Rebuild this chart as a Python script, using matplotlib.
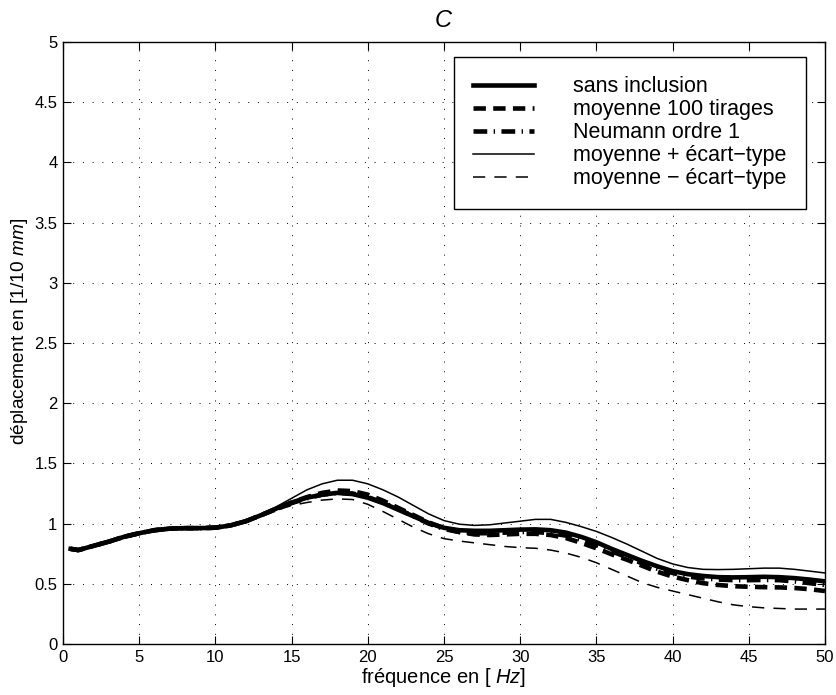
import matplotlib
matplotlib.use("Agg")
import matplotlib.pyplot as plt

plt.rcParams['font.family'] = ['Liberation Sans', 'DejaVu Sans']
plt.rcParams['mathtext.fontset'] = 'custom'
plt.rcParams['mathtext.rm'] = 'Liberation Sans'
plt.rcParams['mathtext.it'] = 'Liberation Sans:italic'

freq = [0.5, 1, 2, 3, 4, 5, 6, 7, 8, 9, 10, 11, 12, 13, 14, 15, 16, 17, 18, 19, 20,
        21, 22, 23, 24, 25, 26, 27, 28, 29, 30, 31, 32, 33, 34, 35, 36, 37, 38, 39, 40,
        41, 42, 43, 44, 45, 46, 47, 48, 49, 50]
common = [0.79, 0.78, 0.815, 0.85, 0.89, 0.92, 0.945, 0.958, 0.962, 0.962, 0.966, 0.985, 1.02, 1.07]

sans_inclusion = common + [1.125, 1.175, 1.215, 1.24, 1.255, 1.245, 1.215, 1.17, 1.115, 1.06, 1.005,
                           0.965, 0.945, 0.94, 0.94, 0.945, 0.95, 0.952, 0.945, 0.925, 0.89, 0.845,
                           0.79, 0.74, 0.69, 0.645, 0.605, 0.58, 0.565, 0.555, 0.553, 0.555, 0.558,
                           0.555, 0.547, 0.535, 0.52]
moyenne = common + [1.125, 1.175, 1.22, 1.255, 1.275, 1.27, 1.24, 1.19, 1.13, 1.07, 1.01,
                    0.96, 0.93, 0.91, 0.905, 0.91, 0.915, 0.915, 0.905, 0.88, 0.84, 0.795,
                    0.745, 0.70, 0.65, 0.60, 0.56, 0.53, 0.505, 0.49, 0.48, 0.475, 0.472,
                    0.47, 0.465, 0.455, 0.44]
neumann = common + [1.12, 1.17, 1.21, 1.24, 1.255, 1.25, 1.22, 1.175, 1.12, 1.06, 1.0,
                    0.955, 0.93, 0.92, 0.92, 0.925, 0.93, 0.93, 0.92, 0.90, 0.865, 0.82,
                    0.77, 0.72, 0.67, 0.625, 0.59, 0.56, 0.545, 0.535, 0.53, 0.53, 0.532,
                    0.53, 0.52, 0.505, 0.49]
moy_plus = common + [1.14, 1.21, 1.28, 1.33, 1.36, 1.36, 1.33, 1.28, 1.22, 1.15, 1.08,
                     1.025, 0.995, 0.985, 0.99, 1.005, 1.02, 1.035, 1.035, 1.01, 0.975, 0.935,
                     0.885, 0.83, 0.77, 0.71, 0.665, 0.635, 0.62, 0.618, 0.62, 0.625, 0.63,
                     0.63, 0.62, 0.605, 0.59]
moy_minus = common + [1.11, 1.15, 1.175, 1.195, 1.205, 1.20, 1.16, 1.10, 1.035, 0.97, 0.915,
                      0.875, 0.855, 0.84, 0.825, 0.81, 0.80, 0.795, 0.78, 0.755, 0.72, 0.675,
                      0.62, 0.565, 0.51, 0.47, 0.44, 0.41, 0.38, 0.35, 0.325, 0.31, 0.30,
                      0.295, 0.29, 0.29, 0.29]

labels = ['sans inclusion', 'moyenne 100 tirages', 'Neumann ordre 1',
          'moyenne + écart\u2212type', 'moyenne \u2212 écart\u2212type']
xticks = list(range(0, 55, 5))
yticks = [0, 0.5, 1, 1.5, 2, 2.5, 3, 3.5, 4, 4.5, 5]
ytick_labels = ['0', '0.5', '1', '1.5', '2', '2.5', '3', '3.5', '4', '4.5', '5']

fig = plt.figure(figsize=(8.36, 6.95), dpi=100)
ax = fig.add_axes([0.0754, 0.0734, 0.9114, 0.8662])

ax.plot(freq, sans_inclusion, 'k-', lw=3.3, label=labels[0])
ax.plot(freq, moyenne, 'k', lw=3.3, linestyle=(0, (2.7, 1.6)), label=labels[1])
ax.plot(freq, neumann, 'k', lw=3.3, linestyle=(0, (3.0, 1.4, 0.3, 1.4)), label=labels[2])
ax.plot(freq, moy_plus, 'k-', lw=1.1, label=labels[3])
ax.plot(freq, moy_minus, 'k', lw=1.1, linestyle=(0, (8, 6)), label=labels[4])

ax.set_xlim(0, 50)
ax.set_ylim(0, 5)
ax.set_xticks(xticks)
ax.set_yticks(yticks)
ax.set_yticklabels(ytick_labels)
ax.tick_params(direction='in', top=True, right=True, labelsize=12, length=6, pad=4)
ax.grid(True, linestyle=(0, (1, 9)), color='k', lw=0.7)
for s in ax.spines.values():
    s.set_linewidth(1.0)

ax.set_title('$\\it{C}$', fontsize=17, pad=11)
ax.set_xlabel('fréquence en [ $\\it{Hz}$]', fontsize=14.5, labelpad=1)
ax.set_ylabel('déplacement en [1/10 $\\it{mm}$]', fontsize=13.8)
ax.yaxis.set_label_coords(-0.044, 0.52)

leg = ax.legend(loc='upper right', bbox_to_anchor=(0.975, 0.975), fontsize=15.5,
                handlelength=2.84, handletextpad=1.8, borderpad=0.9, labelspacing=0.09,
                borderaxespad=0, fancybox=False, framealpha=1, edgecolor='k')
leg.get_frame().set_linewidth(1.0)

fig.savefig('out.png', dpi=100)
